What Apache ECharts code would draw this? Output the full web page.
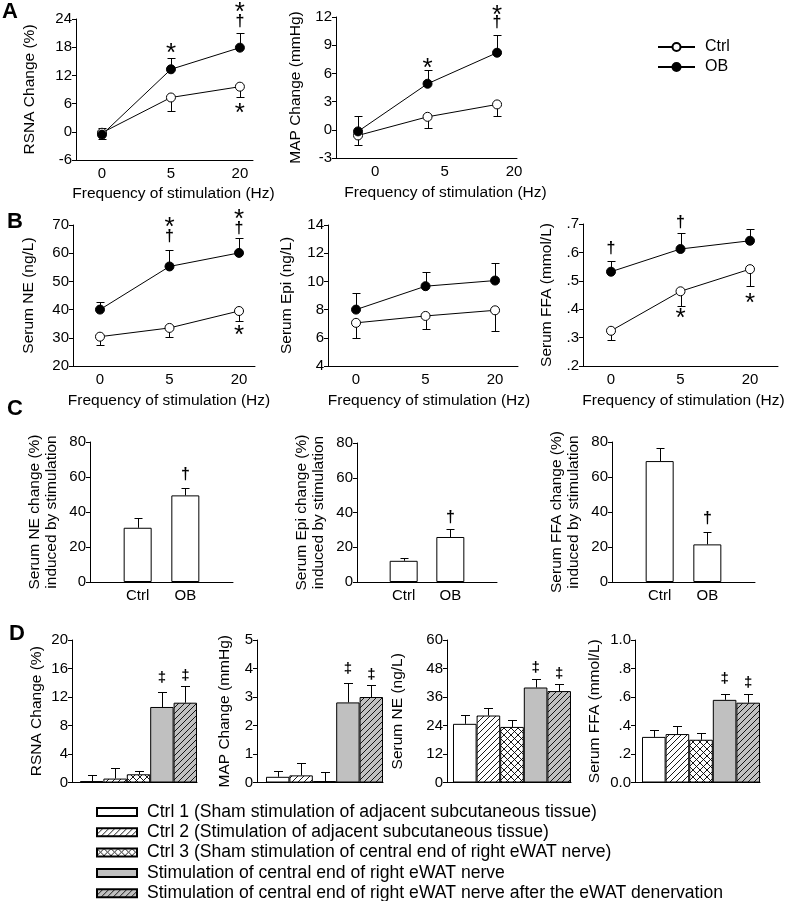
<!DOCTYPE html>
<html><head><meta charset="utf-8">
<script src="https://cdn.jsdelivr.net/npm/echarts@6/dist/echarts.min.js"></script>
<style>html,body{margin:0;padding:0;background:#fff}#c{width:787px;height:901px}</style>
</head><body><div id="c"></div>
<script>
// ---------------- DATA ----------------
const freqLabels = ['0', '5', '20'];
const obLabels = ['Ctrl', 'OB'];
const lineNames = ['Ctrl', 'OB'];

// Panel A – RSNA change (%)
const rsnaTicks = [-6, 0, 6, 12, 18, 24];
const rsnaCtrl = [-0.2, 7.3, 9.6];
const rsnaCtrlErr = [0.9, 4.4, 7.3];
const rsnaOb = [-0.6, 13.3, 17.9];
const rsnaObErr = [-1.6, 15.8, 21.0];
const rsnaMarks = [[1, 17.8, '*'], [2, 26.5, '*'], [2, 23.4, '†'], [2, 5.0, '*']];

// Panel A – MAP change (mmHg)
const mapTicks = [-3, 0, 3, 6, 9, 12];
const mapCtrl = [-0.6, 1.38, 2.7];
const mapCtrlErr = [-1.66, 0.2, 1.45];
const mapOb = [-0.17, 4.9, 8.2];
const mapObErr = [1.45, 6.4, 10.1];
const mapMarks = [[1, 7.1, '*'], [2, 12.8, '*'], [2, 11.4, '†']];

// Panel B – Serum NE (ng/L)
const neTicks = [20, 30, 40, 50, 60, 70];
const neCtrl = [30.4, 33.5, 39.5];
const neCtrlErr = [27.3, 30.3, 36.0];
const neOb = [40.0, 55.3, 60.1];
const neObErr = [42.7, 61.1, 65.3];
const neMarks = [[1, 71.2, '*'], [1, 65.9, '†'], [2, 73.9, '*'], [2, 68.8, '†'], [2, 32.8, '*']];

// Panel B – Serum Epi (ng/L)
const epiTicks = [4, 6, 8, 10, 12, 14];
const epiCtrl = [7.06, 7.55, 7.95];
const epiCtrlErr = [6.0, 6.6, 6.45];
const epiOb = [8.0, 9.66, 10.06];
const epiObErr = [9.2, 10.7, 11.3];
const epiMarks = [];

// Panel B – Serum FFA (mmol/L)
const ffaTicks = [0.2, 0.3, 0.4, 0.5, 0.6, 0.7];
const ffaCtrl = [0.324, 0.463, 0.541];
const ffaCtrlErr = [0.293, 0.41, 0.481];
const ffaOb = [0.532, 0.612, 0.641];
const ffaObErr = [0.571, 0.67, 0.681];
const ffaMarks = [[0, 0.614, '†'], [1, 0.706, '†'], [1, 0.386, '*'], [2, 0.44, '*']];

// Panel C – change induced by stimulation (%)
const pctTicks = [0, 20, 40, 60, 80];
const neChange = [31.0, 49.5];
const neChangeErr = [36.7, 53.9];
const neChangeMarks = [[2, 61.1, '†']];
const epiChange = [12.2, 25.9];
const epiChangeErr = [14.1, 30.7];
const epiChangeMarks = [[2, 37.0, '†']];
const ffaChange = [69.1, 21.5];
const ffaChangeErr = [76.7, 28.6];
const ffaChangeMarks = [[2, 36.4, '†']];

// Panel D – five stimulation groups
const dGroups = [
  'Ctrl 1 (Sham stimulation of adjacent subcutaneous tissue)',
  'Ctrl 2 (Stimulation of adjacent subcutaneous tissue)',
  'Ctrl 3 (Sham stimulation of central end of right eWAT nerve)',
  'Stimulation of central end of right eWAT nerve',
  'Stimulation of central end of right eWAT nerve after the eWAT denervation'
];
const dRsnaTicks = [0, 4, 8, 12, 16, 20];
const dRsna = [0.2, 0.55, 1.15, 10.6, 11.2];
const dRsnaErr = [1.0, 2.0, 1.55, 12.7, 13.5];
const dRsnaMarks = [[4, 14.7, '‡'], [5, 15.0, '‡']];
const dMapTicks = [0, 1, 2, 3, 4, 5];
const dMap = [0.2, 0.25, 0.05, 2.81, 3.0];
const dMapErr = [0.4, 0.68, 0.37, 3.5, 3.41];
const dMapMarks = [[4, 4.0, '‡'], [5, 3.77, '‡']];
const dNeTicks = [0, 12, 24, 36, 48, 60];
const dNe = [24.7, 28.2, 23.4, 40.0, 38.5];
const dNeErr = [28.5, 31.3, 26.2, 43.5, 41.4];
const dNeMarks = [[4, 48.3, '‡'], [5, 45.7, '‡']];
const dFfaTicks = [0, 0.2, 0.4, 0.6, 0.8, 1.0];
const dFfa = [0.32, 0.34, 0.30, 0.58, 0.56];
const dFfaErr = [0.37, 0.40, 0.35, 0.62, 0.62];
const dFfaMarks = [[4, 0.73, '‡'], [5, 0.70, '‡']];

// ---------------- RENDERING ----------------
const FONT = '"Liberation Sans", Arial, Helvetica, sans-serif';
const BLACK = '#000';
const GRAY = '#c0c0c0';

function makePattern(bg, kind, size) {
  const c = document.createElement('canvas');
  c.width = c.height = size;
  const g = c.getContext('2d');
  g.fillStyle = bg; g.fillRect(0, 0, size, size);
  g.strokeStyle = '#000'; g.lineWidth = 0.9;
  g.beginPath();
  const s = size;
  g.moveTo(-1, s + 1); g.lineTo(s + 1, -1);
  g.moveTo(-1, 1); g.lineTo(1, -1);
  g.moveTo(s - 1, s + 1); g.lineTo(s + 1, s - 1);
  if (kind === 'cross') {
    g.moveTo(-1, -1); g.lineTo(s + 1, s + 1);
    g.moveTo(s - 1, -1); g.lineTo(s + 1, 1);
    g.moveTo(-1, s - 1); g.lineTo(1, s + 1);
  }
  g.stroke();
  return { image: c, repeat: 'repeat' };
}
const dFills = ['#fff', makePattern('#fff', 'diag', 6), makePattern('#fff', 'cross', 7), GRAY, makePattern(GRAY, 'diag', 6)];

const fracFmt = v => {
  const s = (Math.round(v * 10) / 10).toFixed(1);
  return s.startsWith('0.') ? s.slice(1) : s;
};
const dFracFmt = v => (v === 0 || v === 1) ? v.toFixed(1) : fracFmt(v);

const grid = [], xAxis = [], yAxis = [], series = [];
const txt = { color: BLACK, fontFamily: FONT };

function addY(gi, ticks, name, nameGap, fmt) {
  yAxis.push({
    type: 'value', gridIndex: gi, min: ticks[0], max: ticks[ticks.length - 1],
    axisLine: { show: true, onZero: false, lineStyle: { color: BLACK, width: 1 } },
    axisTick: { show: true, length: 4, customValues: ticks, lineStyle: { color: BLACK, width: 1 } },
    splitLine: { show: false },
    axisLabel: Object.assign({ customValues: ticks, fontSize: 15, margin: 4, formatter: fmt || (v => String(v)) }, txt),
    name: name, nameLocation: 'middle', nameRotate: 90, nameGap: nameGap,
    nameTextStyle: Object.assign({ fontSize: 15.5, lineHeight: 17 }, txt)
  });
}

const markStyle = {
  '*': { fontSize: 26, fontWeight: 'normal', dy: 6 },
  '†': { fontSize: 16, fontWeight: 'bold', dy: 0 },
  '‡': { fontSize: 15, fontWeight: 'bold', dy: 0 }
};

function errSeries(gi, xs, vals, ends, cap, z) {
  series.push({
    type: 'custom', xAxisIndex: gi, yAxisIndex: gi, z: z || 2, silent: true,
    data: vals.map((v, k) => [xs[k], v, ends[k]]),
    renderItem: (params, api) => {
      const p0 = api.coord([api.value(0), api.value(1)]);
      const p1 = api.coord([api.value(0), api.value(2)]);
      const x = Math.round(p0[0]) + 0.5, y1 = Math.round(p1[1]) + 0.5;
      return {
        type: 'group', children: [
          { type: 'line', shape: { x1: x, y1: p0[1], x2: x, y2: y1 }, style: { stroke: BLACK, lineWidth: 1 } },
          { type: 'line', shape: { x1: x - cap / 2, y1: y1, x2: x + cap / 2, y2: y1 }, style: { stroke: BLACK, lineWidth: 1 } }
        ]
      };
    }
  });
}

function markSeries(gi, marks) {
  if (!marks.length) return;
  series.push({
    type: 'custom', xAxisIndex: gi, yAxisIndex: gi, z: 5, silent: true,
    data: marks.map(m => [m[0], m[1]]),
    renderItem: (params, api) => {
      const m = marks[params.dataIndex];
      const st = markStyle[m[2]];
      const p = api.coord([api.value(0), api.value(1)]);
      return {
        type: 'text', x: p[0], y: p[1] + st.dy,
        style: { text: m[2], fill: BLACK, fontFamily: FONT, fontSize: st.fontSize, fontWeight: st.fontWeight, align: 'center', verticalAlign: 'middle' }
      };
    }
  });
}

// Line-chart panels (A, B)
function linePanel(box, xr, labelShift, nameShift, ticks, yName, yGap, xGap, ctrl, ctrlErr, ob, obErr, marks, fmt) {
  const gi = grid.length;
  grid.push({ left: box[0], top: box[1], width: box[2], height: box[3], containLabel: false });
  xAxis.push({
    type: 'value', gridIndex: gi, min: xr[0], max: xr[1],
    axisLine: { show: true, onZero: false, lineStyle: { color: BLACK, width: 1 } },
    axisTick: { show: false }, splitLine: { show: false },
    axisLabel: Object.assign({
      customValues: [0, 1, 2].map(v => v + labelShift), fontSize: 15, margin: 6,
      formatter: v => freqLabels[Math.round(v - labelShift)]
    }, txt),
    name: 'Frequency of stimulation (Hz)', nameLocation: 'middle', nameGap: xGap,
    nameTextStyle: Object.assign({ fontSize: 15.5, padding: [0, 0, 0, 2 * nameShift] }, txt)
  });
  addY(gi, ticks, yName, yGap, fmt);
  const xs = [0, 1, 2];
  errSeries(gi, xs, ctrl, ctrlErr, 8);
  errSeries(gi, xs, ob, obErr, 8);
  [[lineNames[0], ctrl, '#fff'], [lineNames[1], ob, BLACK]].forEach(([nm, vals, fill]) => {
    series.push({
      type: 'line', name: nm, xAxisIndex: gi, yAxisIndex: gi, z: 3, silent: true,
      data: vals.map((v, k) => [xs[k], v]),
      symbol: 'circle', symbolSize: 9, showAllSymbol: true,
      lineStyle: { color: BLACK, width: 1 },
      itemStyle: { color: fill, borderColor: BLACK, borderWidth: 1 }
    });
  });
  markSeries(gi, marks);
}

linePanel([76, 19, 177, 141], [-0.377, 2.19], 0, 9, rsnaTicks, 'RSNA Change (%)', 38, 26, rsnaCtrl, rsnaCtrlErr, rsnaOb, rsnaObErr, rsnaMarks);
linePanel([336, 17, 181, 141], [-0.317, 2.287], 0.245, 19, mapTicks, 'MAP Change (mmHg)', 32, 27, mapCtrl, mapCtrlErr, mapOb, mapObErr, mapMarks);
linePanel([73, 225, 182, 141], [-0.388, 2.23], 0, 5, neTicks, 'Serum NE (ng/L)', 36, 27, neCtrl, neCtrlErr, neOb, neObErr, neMarks);
linePanel([328, 225, 190, 141], [-0.403, 2.33], 0, 6, epiTicks, 'Serum Epi (ng/L)', 33, 27, epiCtrl, epiCtrlErr, epiOb, epiObErr, epiMarks);
linePanel([583, 224, 195, 142], [-0.403, 2.403], 0, 3, ffaTicks, 'Serum FFA (mmol/L)', 28, 27, ffaCtrl, ffaCtrlErr, ffaOb, ffaObErr, ffaMarks, fracFmt);

// Bar panels (C)
function barPanelC(box, yName, yGap, vals, errs, marks) {
  const gi = grid.length;
  grid.push({ left: box[0], top: box[1], width: box[2], height: box[3], containLabel: false });
  xAxis.push({
    type: 'value', gridIndex: gi, min: 0, max: 3,
    axisLine: { show: true, onZero: false, lineStyle: { color: BLACK, width: 1 } },
    axisTick: { show: false }, splitLine: { show: false },
    axisLabel: Object.assign({ customValues: [1, 2], fontSize: 15, margin: 6, formatter: v => obLabels[Math.round(v) - 1] }, txt)
  });
  addY(gi, pctTicks, yName, yGap);
  const xs = [1, 2];
  series.push({
    type: 'bar', xAxisIndex: gi, yAxisIndex: gi, barWidth: 28, z: 2, silent: true,
    data: vals.map((v, k) => [xs[k], v]),
    itemStyle: { color: '#fff', borderColor: BLACK, borderWidth: 1 }
  });
  errSeries(gi, xs, vals, errs, 8, 1);
  markSeries(gi, marks);
}
barPanelC([90, 442, 143, 140], 'Serum NE change (%)\ninduced by stimulation', 30, neChange, neChangeErr, neChangeMarks);
barPanelC([357, 443, 140, 139], 'Serum Epi change (%)\ninduced by stimulation', 30, epiChange, epiChangeErr, epiChangeMarks);
barPanelC([612, 442, 143, 140], 'Serum FFA change (%)\ninduced by stimulation', 30, ffaChange, ffaChangeErr, ffaChangeMarks);

// Bar panels (D)
function barPanelD(box, xmin, bw, ticks, yName, yGap, vals, errs, marks, fmt) {
  const gi = grid.length;
  grid.push({ left: box[0], top: box[1], width: box[2], height: box[3], containLabel: false });
  xAxis.push({
    type: 'value', gridIndex: gi, min: xmin, max: 5.5,
    axisLine: { show: true, onZero: false, lineStyle: { color: BLACK, width: 1 } },
    axisTick: { show: false }, splitLine: { show: false }, axisLabel: { show: false }
  });
  addY(gi, ticks, yName, yGap, fmt);
  const xs = [1, 2, 3, 4, 5];
  dGroups.forEach((nm, k) => {
    series.push({
      type: 'bar', name: nm, xAxisIndex: gi, yAxisIndex: gi, barWidth: bw, barGap: '-100%', z: 2, silent: true,
      data: [[xs[k], vals[k]]],
      itemStyle: { color: dFills[k], borderColor: BLACK, borderWidth: 1 }
    });
  });
  errSeries(gi, xs, vals, errs, 9, 1);
  markSeries(gi, marks);
}
barPanelD([72, 640, 125, 142.5], 0.158, 23.4, dRsnaTicks, 'RSNA Change (%)', 27, dRsna, dRsnaErr, dRsnaMarks);
barPanelD([257, 640, 126, 142.5], 0.115, 23.4, dMapTicks, 'MAP Change (mmHg)', 24, dMap, dMapErr, dMapMarks);
barPanelD([447, 640, 124, 142.5], 0.246, 23.6, dNeTicks, 'Serum NE (ng/L)', 41, dNe, dNeErr, dNeMarks);
barPanelD([635, 640, 125, 142.5], 0.203, 23.6, dFfaTicks, 'Serum FFA (mmol/L)', 32, dFfa, dFfaErr, dFfaMarks, dFracFmt);

const letters = [['A', 2, 1], ['B', 7, 211], ['C', 7, 398], ['D', 9, 623]];

const option = {
  animation: false,
  backgroundColor: '#fff',
  textStyle: { fontFamily: FONT, color: BLACK },
  grid, xAxis, yAxis, series,
  legend: [
    {
      data: lineNames, orient: 'vertical', left: 657, top: 39, padding: 0, itemWidth: 37, itemHeight: 10, itemGap: 4,
      selectedMode: false, textStyle: Object.assign({ fontSize: 16, padding: [0, 0, 0, 5] }, txt)
    },
    {
      data: dGroups, orient: 'vertical', left: 96, top: 803, height: 110, padding: 0, itemWidth: 40, itemHeight: 8, itemGap: 2.3,
      icon: 'rect', selectedMode: false, textStyle: Object.assign({ fontSize: 17.6, padding: [0, 0, 0, 5] }, txt)
    }
  ],
  graphic: letters.map(([t, x, y]) => ({
    type: 'text', x: x, y: y, style: { text: t, fill: BLACK, fontFamily: FONT, fontSize: 22, fontWeight: 'bold' }
  }))
};

const chart = echarts.init(document.getElementById('c'));
chart.setOption(option);
</script>
</body></html>
